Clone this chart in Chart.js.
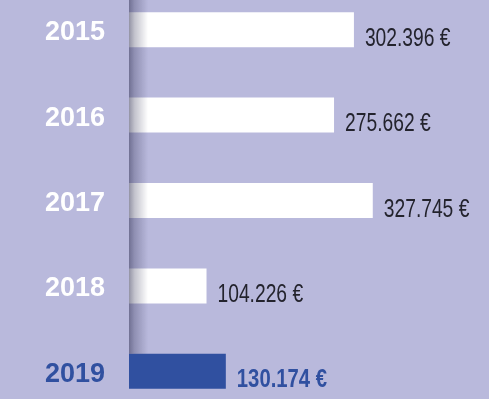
<!DOCTYPE html>
<html>
<head>
<meta charset="utf-8">
<script src="https://cdn.jsdelivr.net/npm/chart.js@4.4.1/dist/chart.umd.min.js"></script>
<style>
  html, body {
    margin: 0;
    padding: 0;
    width: 489px;
    height: 399px;
    overflow: hidden;
    background: #b9b9dc;
  }
  #wrap {
    position: absolute;
    left: 0;
    top: -13px;
    width: 489px;
    height: 427px;
  }
</style>
</head>
<body>
<div id="wrap"><canvas id="myChart" width="489" height="427"></canvas></div>
<script>

var years = ['2015', '2016', '2017', '2018', '2019'];
var amounts = [302396, 275662, 327745, 104226, 130174];
var amountLabels = ['302.396 €', '275.662 €', '327.745 €', '104.226 €', '130.174 €'];

var BLUE = '#3050a0';
var LAST = years.length - 1;

// year names on the left, value text at the end of each bar, shadow along the baseline
var barLabels = {
  id: 'barLabels',
  afterDatasetsDraw: function(chart) {

    var ctx = chart.ctx;
    var area = chart.chartArea;
    var bars = chart.getDatasetMeta(0).data;

    // soft shadow next to the baseline, stops above the current year
    var shadowBottom = bars[LAST].y - bars[LAST].height / 2;
    var grad = ctx.createLinearGradient(area.left, 0, area.left + 19, 0);
    grad.addColorStop(0, 'rgba(40,40,75,0.5)');
    grad.addColorStop(0.3, 'rgba(40,40,75,0.28)');
    grad.addColorStop(1, 'rgba(40,40,75,0)');
    ctx.save();
    ctx.fillStyle = grad;
    ctx.fillRect(area.left, 0, 19, shadowBottom);
    ctx.restore();

    for (var i = 0; i < bars.length; i++) {

      var bar = bars[i];
      var current = i === LAST;

      // year
      ctx.save();
      ctx.font = 'bold 27px "Liberation Sans", Arial, sans-serif';
      ctx.fillStyle = current ? BLUE : '#ffffff';
      ctx.textAlign = 'right';
      ctx.textBaseline = 'middle';
      ctx.fillText(years[i], 105, bar.y + 3);
      ctx.restore();

      // amount, narrowed to a condensed look
      var sx = current ? 0.78 : 0.74;
      ctx.save();
      ctx.translate(bar.x + 11, bar.y + 9);
      ctx.scale(sx, 1);
      ctx.font = (current ? 'bold ' : '') + '26px "Liberation Sans", Arial, sans-serif';
      ctx.fillStyle = current ? BLUE : '#23232d';
      ctx.textAlign = 'left';
      ctx.textBaseline = 'middle';
      ctx.fillText(amountLabels[i], 0, 0);
      ctx.restore();
    }
  }
};

function stampChart() {

  var colors = years.map(function(y, i) {
    return i === LAST ? BLUE : '#ffffff';
  });

  var ctx = document.getElementById('myChart').getContext('2d');
  var chart = new Chart(ctx, {

    type: 'bar',
    data: {
      labels: years,
      datasets: [{
        data: amounts,
        backgroundColor: colors,
        borderWidth: 0,
        barPercentage: 1,
        categoryPercentage: 0.41
      }]
    },
    options: {
      indexAxis: 'y',
      responsive: false,
      animation: false,
      devicePixelRatio: 1,
      layout: {
        padding: { left: 129, right: 0, top: 0, bottom: 0 }
      },
      plugins: {
        legend: { display: false },
        tooltip: { enabled: false }
      },
      scales: {
        x: { display: false, min: 0, max: 484000 },
        y: { display: false }
      }
    },
    plugins: [barLabels]
  });
}

stampChart();
</script>
</body>
</html>
